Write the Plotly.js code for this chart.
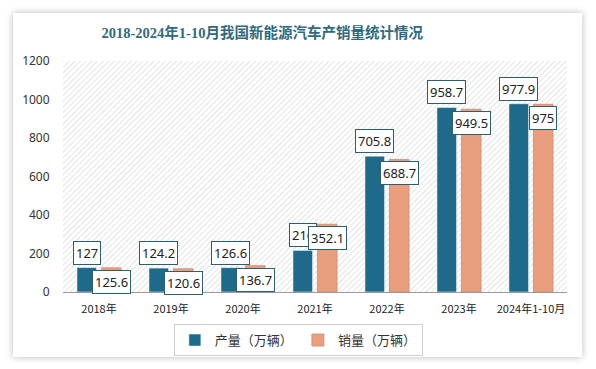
<!DOCTYPE html>
<html>
<head>
<meta charset="utf-8">
<script src="https://cdn.plot.ly/plotly-3.0.1.min.js"></script>
<style>
html,body{margin:0;padding:0;background:#ffffff;width:596px;height:369px;overflow:hidden;}
#card{position:absolute;left:13px;top:13px;width:569px;height:344px;background:#fff;box-shadow:0 0 7px rgba(0,0,0,0.28);}
#chart{width:569px;height:344px;}
</style>
</head>
<body>
<div id="card"><div id="chart"></div></div>
<script>
const categories = ["2018年","2019年","2020年","2021年","2022年","2023年","2024年1-10月"];
const production = [127, 124.2, 126.6, 216, 705.8, 958.7, 977.9];
const sales = [125.6, 120.6, 136.7, 352.1, 688.7, 949.5, 975];
const seriesNames = ["产量（万辆）", "销量（万辆）"];
const yTicks = [0, 200, 400, 600, 800, 1000, 1200];

const blue = "#1e6a8b";
const salmon = "#e99f7e";

const hatch = 'data:image/svg+xml;utf8,' + encodeURIComponent(
  '<svg xmlns="http://www.w3.org/2000/svg" width="505" height="231" preserveAspectRatio="none">' +
  '<defs><pattern id="p" width="4" height="4" patternUnits="userSpaceOnUse" patternTransform="rotate(45)">' +
  '<line x1="0" y1="0" x2="0" y2="4" stroke="#d2d2d2" stroke-width="1.2"/></pattern></defs>' +
  '<rect width="505" height="231" fill="url(#p)"/></svg>');

const traces = [
  {type:"bar", x:categories, y:production, name:seriesNames[0], marker:{color:blue, line:{color:"#ffffff", width:0.5}}, hoverinfo:"none"},
  {type:"bar", x:categories, y:sales, name:seriesNames[1], marker:{color:salmon, line:{color:"#c98c70", width:0.8}}, hoverinfo:"none"}
];

const annos = [];
const labelFont = {family:"Noto Sans, Open Sans, sans-serif", size:13, color:"#222"};
production.forEach((v,i)=>{
  annos.push({x:categories[i], y:v, xref:"x", yref:"y", text:String(v), showarrow:false,
    xshift:-12.3, yshift:15, yanchor:"middle", font:labelFont, bgcolor:"#fff",
    bordercolor:"#2b5f70", borderwidth:1, borderpad:2});
});
sales.forEach((v,i)=>{
  annos.push({x:categories[i], y:v, xref:"x", yref:"y", text:String(v), showarrow:false,
    xshift:12.3, yshift:-14, yanchor:"middle", font:labelFont, bgcolor:"#fff",
    bordercolor:"#2b5f70", borderwidth:1, borderpad:2});
});

const layout = {
  width:569, height:344,
  margin:{l:49.5, r:15, t:48, b:65, autoexpand:false},
  paper_bgcolor:"#ffffff",
  plot_bgcolor:"rgba(0,0,0,0)",
  title:{text:"2018-2024年1-10月我国新能源汽车产销量统计情况", xref:"container", yref:"container",
    x:0.438, xanchor:"center", y:0.942, yanchor:"middle",
    font:{family:"Liberation Serif, Noto Sans CJK SC, serif", size:14.5, color:"#2f6a7f", weight:"bold"}},
  barmode:"group", bargap:0.32, bargroupgap:0.2,
  xaxis:{type:"category", showgrid:false, showline:true, linecolor:"#9a9a9a", linewidth:1,
    ticks:"outside", ticklen:7, tickcolor:"rgba(0,0,0,0)",
    tickfont:{family:"Noto Sans CJK SC, sans-serif", size:11, color:"#222"}, zeroline:false},
  yaxis:{range:[0,1200], tickvals:yTicks, showgrid:false, zeroline:false, showline:false,
    ticks:"outside", ticklen:10, tickcolor:"rgba(0,0,0,0)",
    tickfont:{family:"Noto Sans, sans-serif", size:12, color:"#333"}},
  showlegend:true,
  legend:{orientation:"h", x:0.467, xanchor:"center", y:-0.139, yanchor:"top",
    bordercolor:"#cfcfcf", borderwidth:1, bgcolor:"#fff",
    font:{family:"Noto Sans CJK SC, sans-serif", size:13, color:"#333"}, itemwidth:30},
  images:[{source:hatch, xref:"paper", yref:"paper", x:0, y:1, sizex:1, sizey:1,
    xanchor:"left", yanchor:"top", sizing:"stretch", layer:"below"}],
  annotations:annos
};

Plotly.newPlot("chart", traces, layout, {staticPlot:true, displayModeBar:false});
</script>
</body>
</html>
